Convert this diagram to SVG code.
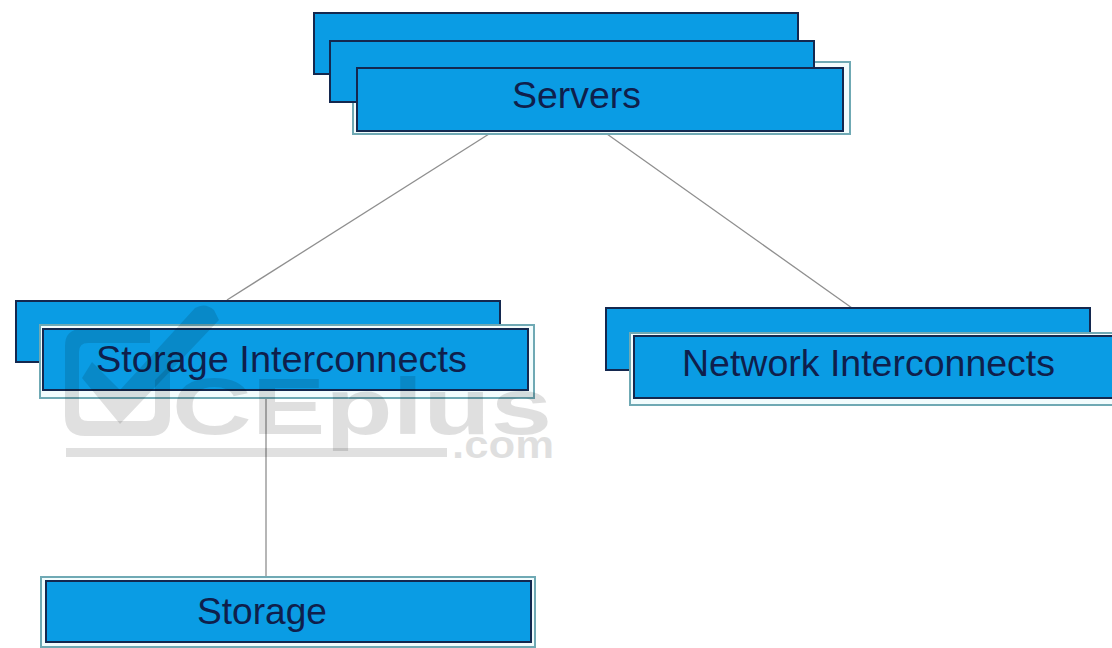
<svg xmlns="http://www.w3.org/2000/svg" width="1112" height="648" viewBox="0 0 1112 648">
<style>
.b{fill:#0a9ce4;stroke:#14284f;stroke-width:2}
.o{fill:#f2fcfd;stroke:#6fa9b4;stroke-width:2}
.t{font-family:"Liberation Sans",Arial,sans-serif;font-size:37px;fill:#0f1f4c}
.c{stroke:#8f8f8f;stroke-width:1.3;fill:none}
.w{fill:#000;opacity:.12}
.wt{font-family:"Liberation Sans",Arial,sans-serif;font-weight:700}
</style>
<rect width="1112" height="648" fill="#fff"/>
<g id="connectors">
<line class="c" x1="489" y1="134" x2="227" y2="300"/>
<line class="c" x1="607" y1="134" x2="852" y2="308"/>
<line class="c" x1="266" y1="398" x2="266" y2="576"/>
</g>
<g id="servers">
<rect class="b" x="314" y="13" width="484" height="61"/>
<rect class="o" x="353" y="62" width="497" height="72"/>
<rect class="b" x="330" y="41" width="484" height="61"/>
<rect class="b" x="357" y="68" width="486" height="63"/>
<text class="t" x="512" y="108" textLength="129" lengthAdjust="spacingAndGlyphs">Servers</text>
</g>
<g id="storage-interconnects">
<rect class="b" x="16" y="301" width="484" height="61"/>
<rect class="o" x="40" y="325" width="494" height="73"/>
<rect class="b" x="43" y="329" width="485" height="61"/>
<text class="t" x="96" y="372" textLength="371" lengthAdjust="spacingAndGlyphs">Storage Interconnects</text>
</g>
<g id="network-interconnects">
<rect class="b" x="606" y="308" width="484" height="62"/>
<rect class="o" x="630" y="333" width="490" height="72"/>
<rect class="b" x="634" y="336" width="486" height="62"/>
<text class="t" x="682" y="376" textLength="373" lengthAdjust="spacingAndGlyphs">Network Interconnects</text>
</g>
<g id="storage">
<rect class="o" x="41" y="577" width="494" height="70"/>
<rect class="b" x="46" y="581" width="485" height="61"/>
<text class="t" x="197" y="624" textLength="130" lengthAdjust="spacingAndGlyphs">Storage</text>
</g>
<g id="watermark">
<path class="w" fill-rule="evenodd" d="M82 329H150V343H88Q79 343 79 352V412Q79 421 88 421H146Q155 421 155 412V380L170 365V416Q170 436 150 436H85Q65 436 65 416V346Q65 329 82 329Z"/>
<path class="w" d="M92 362L120 390L195 308Q205 302 214 310L219 320L120 424L82 378Z"/>
<text class="w wt" x="172" y="434" font-size="80" textLength="380" lengthAdjust="spacingAndGlyphs">CEplus</text>
<rect class="w" x="66" y="448" width="381" height="9"/>
<text class="w wt" x="452" y="458" font-size="38" textLength="102" lengthAdjust="spacingAndGlyphs">.com</text>
</g>
</svg>
